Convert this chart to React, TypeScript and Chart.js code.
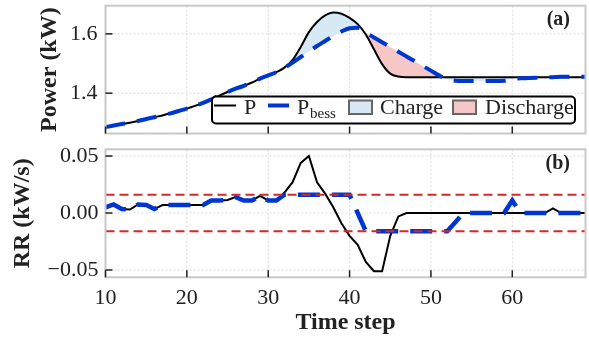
import React, { useEffect, useRef } from 'react';
import { Chart, registerables } from 'chart.js';

Chart.register(...registerables);

const FONT = "'Liberation Serif', 'Times New Roman', serif";

const timeSteps = [10, 11, 12, 13, 14, 15, 16, 17, 18, 19, 20, 21, 22, 23, 24, 25, 26, 27, 28, 29, 30, 31, 32, 33, 34, 35, 36, 37, 38, 39, 40, 41, 42, 43, 44, 45, 46, 47, 48, 49, 50, 51, 52, 53, 54, 55, 56, 57, 58, 59, 60, 61, 62, 63, 64, 65, 66, 67, 68, 69];

const powerP = [1.285, 1.291, 1.296, 1.300, 1.306, 1.313, 1.319, 1.325, 1.332, 1.340, 1.348, 1.357, 1.367, 1.379, 1.392, 1.404, 1.415, 1.425, 1.436, 1.449, 1.460, 1.471, 1.486, 1.512, 1.556, 1.606, 1.640, 1.662, 1.672, 1.668, 1.654, 1.633, 1.598, 1.548, 1.498, 1.466, 1.456, 1.454, 1.454, 1.454, 1.454, 1.454, 1.454, 1.454, 1.454, 1.454, 1.454, 1.454, 1.454, 1.454, 1.454, 1.454, 1.454, 1.454, 1.454, 1.454, 1.454, 1.454, 1.454, 1.454];

const powerBess = [1.285, 1.291, 1.296, 1.300, 1.306, 1.313, 1.319, 1.325, 1.332, 1.340, 1.348, 1.357, 1.367, 1.379, 1.392, 1.404, 1.415, 1.425, 1.436, 1.449, 1.460, 1.471, 1.486, 1.503, 1.522, 1.541, 1.559, 1.576, 1.593, 1.608, 1.619, 1.621, 1.604, 1.588, 1.572, 1.556, 1.540, 1.524, 1.508, 1.492, 1.476, 1.460, 1.447, 1.442, 1.441, 1.441, 1.441, 1.441, 1.441, 1.442, 1.449, 1.450, 1.451, 1.452, 1.453, 1.454, 1.455, 1.455, 1.455, 1.455];

const rrP = [0.005, 0.0075, 0.0035, 0.003, 0.0075, 0.007, 0.0035, 0.007, 0.007, 0.007, 0.007, 0.007, 0.007, 0.011, 0.011, 0.0115, 0.014, 0.011, 0.011, 0.015, 0.011, 0.0105, 0.018, 0.027, 0.044, 0.050, 0.027, 0.017, 0.005, -0.009, -0.020, -0.028, -0.043, -0.051, -0.051, -0.020, -0.003, 0, 0, 0, 0, 0, 0, 0, 0, 0, 0, 0, 0, 0, 0, 0, 0, 0, 0, 0.004, 0, 0, 0, 0];

const rrBess = [0.005, 0.0075, 0.0035, 0.003, 0.0075, 0.007, 0.0035, 0.007, 0.007, 0.007, 0.007, 0.007, 0.007, 0.011, 0.011, 0.0115, 0.014, 0.011, 0.011, 0.015, 0.011, 0.011, 0.016, 0.016, 0.016, 0.016, 0.016, 0.016, 0.016, 0.016, 0.016, 0.0, -0.016, -0.016, -0.016, -0.016, -0.016, -0.016, -0.016, -0.016, -0.016, -0.016, -0.016, -0.008, 0, 0, 0, 0, 0, 0, 0.011, 0, 0, 0, 0, 0, 0, 0, 0, 0];

const rrLimitX = [10, 69];
const rrLimitUpper = [0.016, 0.016];
const rrLimitLower = [-0.016, -0.016];

const xTicks = [10, 20, 30, 40, 50, 60];
const topYTicks = [1.4, 1.6];
const bottomYTicks = [-0.05, 0, 0.05];

const BLUE = '#0036d0';
const RED = '#d62728';
const CHARGE = '#d6e9f5';
const DISCHARGE = '#f5c7c7';
const TEXT = '#222222';

function framePlugin(id: string, xt: number[], yt: number[], label: string, labelY: number, legend: boolean) {
  return {
    id,
    beforeDatasetsDraw(chart: any) {
      const { ctx, chartArea: a, scales } = chart;
      ctx.save();
      ctx.strokeStyle = '#dadada';
      ctx.lineWidth = 1;
      ctx.setLineDash([2, 2]);
      xt.forEach((v) => {
        const px = scales.x.getPixelForValue(v);
        if (px <= a.left + 1) return;
        ctx.beginPath();
        ctx.moveTo(px, a.top);
        ctx.lineTo(px, a.bottom);
        ctx.stroke();
      });
      yt.forEach((v) => {
        const py = scales.y.getPixelForValue(v);
        ctx.beginPath();
        ctx.moveTo(a.left, py);
        ctx.lineTo(a.right, py);
        ctx.stroke();
      });
      ctx.restore();
    },
    afterDraw(chart: any) {
      const { ctx, chartArea: a, scales } = chart;
      ctx.save();
      ctx.strokeStyle = '#c8c8c8';
      ctx.lineWidth = 2;
      ctx.strokeRect(a.left, a.top, a.right - a.left, a.bottom - a.top);
      ctx.strokeStyle = '#222';
      ctx.lineWidth = 1.5;
      xt.forEach((v) => {
        const px = scales.x.getPixelForValue(v);
        ctx.beginPath();
        ctx.moveTo(px, a.bottom);
        ctx.lineTo(px, a.bottom - 7);
        ctx.stroke();
      });
      yt.forEach((v) => {
        const py = scales.y.getPixelForValue(v);
        ctx.beginPath();
        ctx.moveTo(a.left, py);
        ctx.lineTo(a.left + 7, py);
        ctx.stroke();
      });
      ctx.fillStyle = TEXT;
      ctx.font = `bold 20px ${FONT}`;
      ctx.textAlign = 'right';
      ctx.textBaseline = 'alphabetic';
      ctx.fillText(label, 570, labelY);

      if (legend) {
        const bx = 212, by = 96.5, bw = 363, bh = 27;
        ctx.beginPath();
        (ctx as any).roundRect(bx, by, bw, bh, 4);
        ctx.fillStyle = '#ffffff';
        ctx.fill();
        ctx.strokeStyle = '#000';
        ctx.lineWidth = 2;
        ctx.stroke();
        const cy = 105.5;
        ctx.beginPath();
        ctx.moveTo(214, cy);
        ctx.lineTo(236, cy);
        ctx.strokeStyle = '#000';
        ctx.lineWidth = 2;
        ctx.stroke();
        ctx.fillStyle = TEXT;
        ctx.textAlign = 'left';
        ctx.font = `22px ${FONT}`;
        ctx.fillText('P', 244, 114);
        ctx.beginPath();
        ctx.moveTo(268, cy);
        ctx.lineTo(289, cy);
        ctx.strokeStyle = BLUE;
        ctx.lineWidth = 4;
        ctx.stroke();
        ctx.fillText('P', 297, 114);
        ctx.font = `15px ${FONT}`;
        ctx.fillText('bess', 310, 118);
        ctx.fillStyle = CHARGE;
        ctx.fillRect(349, 100.5, 23, 13.5);
        ctx.strokeStyle = '#666';
        ctx.lineWidth = 2;
        ctx.strokeRect(349, 100.5, 23, 13.5);
        ctx.fillStyle = TEXT;
        ctx.font = `22px ${FONT}`;
        ctx.fillText('Charge', 380, 114);
        ctx.fillStyle = DISCHARGE;
        ctx.fillRect(453, 100.5, 23, 13.5);
        ctx.strokeRect(453, 100.5, 23, 13.5);
        ctx.fillStyle = TEXT;
        ctx.fillText('Discharge', 485, 114);
      }
      ctx.restore();
    },
  };
}

function fmtRR(v: number) {
  if (Math.abs(v) < 1e-9) return '0.00';
  return (v < 0 ? '\u2212' : '') + Math.abs(v).toFixed(2);
}

const fitY = (s: any) => { s.width = 105.5; s.paddingTop = 0; s.paddingBottom = 0; };

export default function App() {
  const topRef = useRef<HTMLCanvasElement>(null);
  const botRef = useRef<HTMLCanvasElement>(null);

  useEffect(() => {
    Chart.defaults.font.family = FONT;
    const xy = (ys: number[]) => timeSteps.map((x, i) => ({ x, y: ys[i] }));

    const top = new Chart(topRef.current as HTMLCanvasElement, {
      type: 'line',
      data: {
        datasets: [
          {
            label: 'Pbess',
            data: xy(powerBess),
            borderColor: BLUE,
            borderWidth: 4,
            borderDash: [20, 12],
            pointRadius: 0,
            cubicInterpolationMode: 'monotone',
            fill: false,
          },
          {
            label: 'P',
            data: xy(powerP),
            borderColor: '#000',
            borderWidth: 2,
            pointRadius: 0,
            cubicInterpolationMode: 'monotone',
            fill: { target: 0, above: CHARGE, below: DISCHARGE },
          },
        ],
      } as any,
      options: {
        responsive: false,
        animation: false,
        layout: { padding: { left: 0, right: 3.5, top: 5.7, bottom: 0 } },
        plugins: { legend: { display: false }, tooltip: { enabled: false } },
        scales: {
          x: {
            type: 'linear',
            min: 10,
            max: 69,
            afterBuildTicks: (s: any) => { s.ticks = xTicks.map((v) => ({ value: v })); },
            afterFit: (s: any) => { s.height = 6.5; s.paddingLeft = 0; s.paddingRight = 0; },
            ticks: { display: false },
            grid: { display: false, drawTicks: false },
            border: { display: false },
          },
          y: {
            type: 'linear',
            min: 1.264,
            max: 1.695,
            afterBuildTicks: (s: any) => { s.ticks = topYTicks.map((v) => ({ value: v })); },
            afterFit: fitY,
            grid: { display: false, drawTicks: false },
            border: { display: false },
            ticks: {
              padding: 8,
              color: TEXT,
              font: { size: 22, family: FONT },
              callback: (v: any) => Number(v).toFixed(1),
            },
            title: {
              display: true,
              text: 'Power (kW)',
              color: TEXT,
              font: { size: 24, weight: 'bold', family: FONT },
              padding: { top: 35.6, bottom: 0 },
            },
          },
        },
      } as any,
      plugins: [framePlugin('frameTop', xTicks, topYTicks, '(a)', 24.5, true)],
    });

    const bot = new Chart(botRef.current as HTMLCanvasElement, {
      type: 'line',
      data: {
        datasets: [
          {
            label: 'upper',
            data: rrLimitX.map((x, i) => ({ x, y: rrLimitUpper[i] })),
            borderColor: RED,
            borderWidth: 2,
            borderDash: [9, 5],
            pointRadius: 0,
          },
          {
            label: 'lower',
            data: rrLimitX.map((x, i) => ({ x, y: rrLimitLower[i] })),
            borderColor: RED,
            borderWidth: 2,
            borderDash: [9, 5],
            pointRadius: 0,
          },
          {
            label: 'RR bess',
            data: xy(rrBess),
            borderColor: BLUE,
            borderWidth: 4.5,
            borderDash: [22, 12],
            pointRadius: 0,
            tension: 0,
          },
          {
            label: 'RR P',
            data: xy(rrP),
            borderColor: '#000',
            borderWidth: 2,
            pointRadius: 0,
            tension: 0,
          },
        ],
      } as any,
      options: {
        responsive: false,
        animation: false,
        layout: { padding: { left: 0, right: 3.5, top: 9.3, bottom: 0 } },
        plugins: { legend: { display: false }, tooltip: { enabled: false } },
        scales: {
          x: {
            type: 'linear',
            min: 10,
            max: 69,
            afterBuildTicks: (s: any) => { s.ticks = xTicks.map((v) => ({ value: v })); },
            afterFit: (s: any) => { s.height = 62.7; s.paddingLeft = 0; s.paddingRight = 0; },
            grid: { display: false, drawTicks: false },
            border: { display: false },
            ticks: {
              padding: 8,
              maxRotation: 0,
              autoSkip: false,
              color: TEXT,
              font: { size: 22, family: FONT },
              callback: (v: any) => String(v),
            },
            title: {
              display: true,
              text: 'Time step',
              color: TEXT,
              font: { size: 24, weight: 'bold', family: FONT },
              padding: { top: 0, bottom: 3 },
            },
          },
          y: {
            type: 'linear',
            min: -0.0564,
            max: 0.0559,
            afterBuildTicks: (s: any) => { s.ticks = bottomYTicks.map((v) => ({ value: v })); },
            afterFit: fitY,
            grid: { display: false, drawTicks: false },
            border: { display: false },
            ticks: {
              padding: 7,
              color: TEXT,
              font: { size: 22, family: FONT },
              callback: (v: any) => fmtRR(Number(v)),
            },
            title: {
              display: true,
              text: 'RR (kW/s)',
              color: TEXT,
              font: { size: 24, weight: 'bold', family: FONT },
              padding: { top: 8.6, bottom: 0 },
            },
          },
        },
      } as any,
      plugins: [framePlugin('frameBot', xTicks, bottomYTicks, '(b)', 28.5, false)],
    });

    return () => {
      top.destroy();
      bot.destroy();
    };
  }, []);

  return (
    <div style={{ position: 'absolute', left: 0, top: 0, width: 589, height: 340, background: '#fff' }}>
      <canvas ref={topRef} width={589} height={140} style={{ position: 'absolute', left: 0, top: 0, width: 589, height: 140 }} />
      <canvas ref={botRef} width={589} height={200} style={{ position: 'absolute', left: 0, top: 140, width: 589, height: 200 }} />
    </div>
  );
}
